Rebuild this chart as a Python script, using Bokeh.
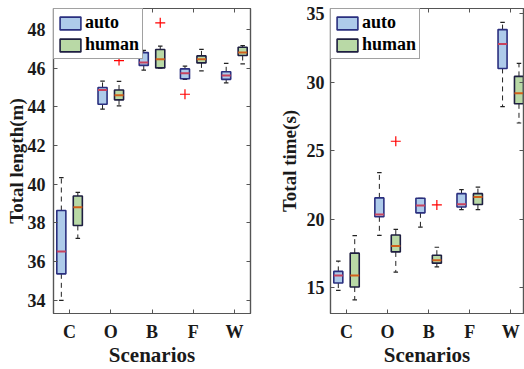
from bokeh.plotting import figure
from bokeh.models import Range1d, FixedTicker, LinearAxis, Legend, LegendItem, ColumnDataSource
from bokeh.layouts import row
from bokeh.embed import file_html
from bokeh.resources import INLINE

# ---------------- data ----------------
categories = ["C", "O", "B", "F", "W"]
positions = [1, 2, 3, 4, 5]

# Total length (m)
length_auto_lo = [34.0, 43.88, 45.90, 45.42, 45.24]
length_auto_q1 = [35.37, 44.13, 46.14, 45.45, 45.42]
length_auto_med = [36.52, 44.87, 46.29, 45.73, 45.62]
length_auto_q3 = [38.64, 45.00, 46.80, 45.96, 45.81]
length_auto_hi = [40.34, 45.33, 46.92, 46.10, 46.24]
length_human_lo = [37.20, 44.05, 46.00, 45.86, 46.22]
length_human_q1 = [37.87, 44.36, 46.01, 46.27, 46.65]
length_human_med = [38.81, 44.60, 46.46, 46.46, 46.80]
length_human_q3 = [39.39, 44.87, 46.96, 46.63, 47.08]
length_human_hi = [39.58, 45.31, 47.14, 46.97, 47.16]
length_auto_out_pos = [4]
length_auto_out_val = [44.65]
length_human_out_pos = [2, 3]
length_human_out_val = [46.39, 48.34]

# Total time (s)
time_auto_lo = [14.83, 18.84, 19.44, 20.72, 28.23]
time_auto_q1 = [15.36, 20.19, 20.48, 20.91, 31.01]
time_auto_med = [15.92, 20.36, 21.01, 21.11, 32.80]
time_auto_q3 = [16.21, 21.57, 21.54, 21.88, 33.84]
time_auto_hi = [16.96, 23.41, 21.54, 22.17, 34.37]
time_human_lo = [14.13, 16.16, 16.54, 20.72, 27.03]
time_human_q1 = [15.07, 17.63, 16.81, 21.09, 28.43]
time_human_med = [15.92, 18.07, 17.03, 21.64, 29.20]
time_human_q3 = [17.54, 18.86, 17.39, 21.88, 30.43]
time_human_hi = [18.82, 19.27, 17.97, 22.36, 31.38]
time_auto_out_pos = []
time_auto_out_val = []
time_human_out_pos = [2, 3]
time_human_out_val = [25.70, 21.06]

length_ticks = [34, 36, 38, 40, 42, 44, 46, 48]
time_ticks = [15, 20, 25, 30, 35]

# ---------------- style ----------------
FONT = "Liberation Serif"
TXT = "#1a1a1a"
AXC = "#555555"
OFF = 0.2
BW = 0.11
CAP = 0.055
AUTO_FILL = "#aecbea"
HUMAN_FILL = "#b9d9a6"
AUTO_LINE = "#2a2f7f"
HUMAN_LINE = "#1e1e40"
AUTO_MED = "#c8435e"
HUMAN_MED = "#d2601a"


def style_axis(ax, show_labels):
    ax.axis_line_color = AXC
    ax.axis_line_width = 1.2
    ax.major_tick_line_color = AXC
    ax.major_tick_in = 4
    ax.major_tick_out = 0
    ax.minor_tick_line_color = None
    ax.major_label_text_font = FONT
    ax.major_label_text_font_style = "bold"
    ax.major_label_text_color = TXT
    if show_labels:
        ax.major_label_text_font_size = "18px"
    else:
        ax.major_label_text_font_size = "0px"
        ax.major_label_standoff = 0


def add_group(p, xs, lo, q1, med, q3, hi, fill, line, medc, opos, oval, off):
    x = [v + off for v in xs]
    src = ColumnDataSource(dict(
        x=x, l=[v - BW for v in x], r=[v + BW for v in x],
        cl=[v - CAP for v in x], cr=[v + CAP for v in x],
        lo=lo, q1=q1, med=med, q3=q3, hi=hi))
    p.segment(x0="x", y0="q3", x1="x", y1="hi", source=src, line_color="#222222",
              line_width=1, line_dash="5 4")
    p.segment(x0="x", y0="q1", x1="x", y1="lo", source=src, line_color="#222222",
              line_width=1, line_dash="5 4")
    p.segment(x0="cl", y0="hi", x1="cr", y1="hi", source=src, line_color="#222222", line_width=1.2)
    p.segment(x0="cl", y0="lo", x1="cr", y1="lo", source=src, line_color="#222222", line_width=1.2)
    box = p.quad(left="l", right="r", bottom="q1", top="q3", source=src,
                 fill_color=fill, line_color=line, line_width=1.6)
    p.segment(x0="l", y0="med", x1="r", y1="med", source=src, line_color=medc, line_width=2)
    if opos:
        p.scatter([v + off for v in opos], oval, marker="cross", size=10,
                  line_color="#ff0000", line_width=1.2)
    return box


def build(width, height, yrange, xend, yticks, ylabel, auto, human, auto_out, human_out,
          minl, minr, lab_standoff, tick_standoff):
    p = figure(width=width, height=height, output_backend="svg", toolbar_location=None,
               x_range=Range1d(0.61, xend), y_range=Range1d(*yrange),
               min_border_left=minl, min_border_right=minr, min_border_top=8,
               min_border_bottom=10)
    p.background_fill_color = "white"
    p.border_fill_color = "white"
    p.outline_line_color = AXC
    p.outline_line_width = 1.2
    p.xgrid.visible = False
    p.ygrid.visible = False

    xa = p.xaxis[0]
    xa.ticker = FixedTicker(ticks=positions)
    xa.major_label_overrides = {pos: c for pos, c in zip(positions, categories)}
    style_axis(xa, True)
    xa.major_label_standoff = 8
    xa.axis_label = "Scenarios"
    xa.axis_label_text_font = FONT
    xa.axis_label_text_font_style = "bold"
    xa.axis_label_text_font_size = "21px"
    xa.axis_label_text_color = TXT
    xa.axis_label_standoff = -2

    ya = p.yaxis[0]
    ya.ticker = FixedTicker(ticks=yticks)
    style_axis(ya, True)
    ya.major_label_standoff = tick_standoff
    ya.axis_label = ylabel
    ya.axis_label_text_font = FONT
    ya.axis_label_text_font_style = "bold"
    ya.axis_label_text_font_size = "19px"
    ya.axis_label_text_color = TXT
    ya.axis_label_standoff = lab_standoff

    top = LinearAxis(ticker=FixedTicker(ticks=positions))
    style_axis(top, False)
    p.add_layout(top, "above")
    right = LinearAxis(ticker=FixedTicker(ticks=yticks))
    style_axis(right, False)
    p.add_layout(right, "right")

    ra = add_group(p, positions, *auto, AUTO_FILL, AUTO_LINE, AUTO_MED, *auto_out, -OFF)
    rh = add_group(p, positions, *human, HUMAN_FILL, HUMAN_LINE, HUMAN_MED, *human_out, OFF)
    leg = Legend(items=[LegendItem(label="auto", renderers=[ra]),
                        LegendItem(label="human", renderers=[rh])],
                 location="top_left")
    leg.margin = 0
    leg.padding = 3
    leg.spacing = 1
    leg.glyph_width = 26
    leg.glyph_height = 16
    leg.label_height = 18
    leg.label_standoff = 2
    leg.label_text_font = FONT
    leg.label_text_font_style = "bold"
    leg.label_text_font_size = "18px"
    leg.label_text_color = "#000000"
    leg.border_line_color = "#444444"
    leg.border_line_width = 1
    leg.background_fill_alpha = 1
    p.add_layout(leg, "center")
    return p


p1 = build(262, 369, (33.32, 49.08), 5.39, length_ticks, "Total length(m)",
           (length_auto_lo, length_auto_q1, length_auto_med, length_auto_q3, length_auto_hi),
           (length_human_lo, length_human_q1, length_human_med, length_human_q3, length_human_hi),
           (length_auto_out_pos, length_auto_out_val),
           (length_human_out_pos, length_human_out_val),
           53, 12, -2, 8)
p2 = build(262, 369, (13.14, 35.38), 5.31, time_ticks, "Total time(s)",
           (time_auto_lo, time_auto_q1, time_auto_med, time_auto_q3, time_auto_hi),
           (time_human_lo, time_human_q1, time_human_med, time_human_q3, time_human_hi),
           (time_auto_out_pos, time_auto_out_val),
           (time_human_out_pos, time_human_out_val),
           68, 1, 4, 6)

layout = row(p1, p2)
open("out.html", "w").write(file_html(layout, INLINE))
